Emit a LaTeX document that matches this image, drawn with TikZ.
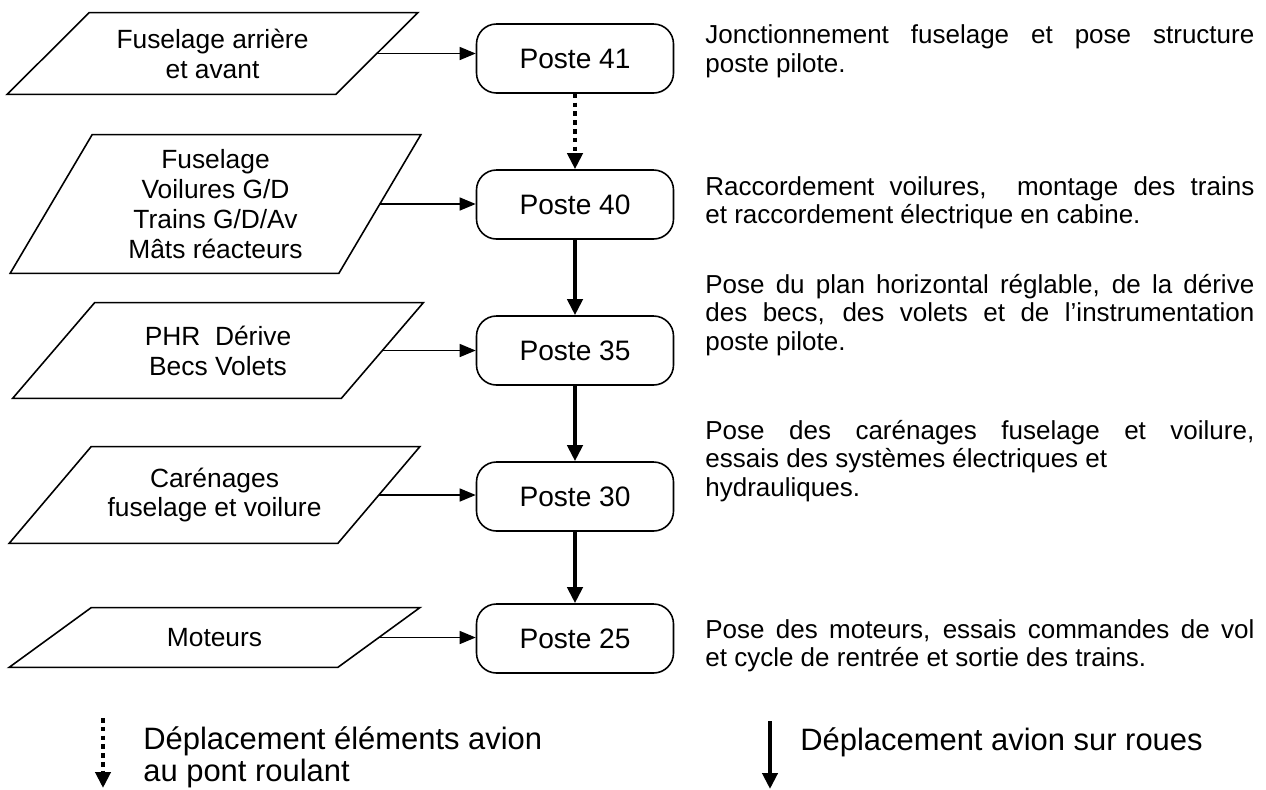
\documentclass[tikz,border=0pt]{standalone}
\usepackage{fontspec}
\setmainfont{Liberation Sans}
\usetikzlibrary{arrows.meta}
\newcommand\cadre[1]{\draw[line width=.9pt] ([xshift=-.82cm]#1.south west) -- ([xshift=.82cm]#1.north west) -- ([xshift=.82cm]#1.north east) -- ([xshift=-.82cm]#1.south east) -- cycle;}

\begin{document}
\begin{tikzpicture}[
	poste/.style={draw,line width=.9pt,rounded corners=.4cm,minimum width=3.94cm,minimum height=1.38cm,inner sep=0pt,font=\fontsize{16}{19}\selectfont},
	entree/.style={minimum width=6.56cm,minimum height=#1,inner sep=0pt,align=center,font=\fontsize{15}{17}\selectfont},
	descr/.style={anchor=west,text width=10.98cm,align=justify,inner sep=0pt,font=\fontsize{14.8}{16.2}\selectfont},
	legende/.style={anchor=west,align=left,inner sep=0pt,font=\fontsize{17.6}{18.4}\selectfont},
	flechefine/.style={-{Triangle[length=.32cm,width=.26cm]},line width=.75pt},
	flechegrasse/.style={-{Triangle[length=.32cm,width=.3cm]},line width=2.5pt},
	flechepont/.style={-{Triangle[length=.32cm,width=.3cm]},line width=2.6pt,dash pattern=on 2.6pt off 2.4pt}
	]
	\useasboundingbox (0,0) rectangle (25.32,-15.78);

	\node[entree=1.62cm] (fus) at (4.25,-1.07) {Fuselage arrière\\et avant};
	\node[entree=2.76cm] (voil) at (4.31,-4.08) {Fuselage\\Voilures G/D\\Trains G/D/Av\\Mâts réacteurs};
	\node[entree=1.9cm] (phr) at (4.36,-7.01) {PHR\ \ Dérive\\Becs Volets};
	\node[entree=1.92cm] (car) at (4.29,-9.9) {Carénages\\fuselage et voilure};
	\node[entree=1.18cm] (mot) at (4.29,-12.75) {Moteurs};
	\cadre{fus} \cadre{voil} \cadre{phr} \cadre{car} \cadre{mot}

	\node[poste] (p41) at (11.5,-1.17) {Poste 41};
	\node[poste] (p40) at (11.5,-4.09) {Poste 40};
	\node[poste] (p35) at (11.5,-7.01) {Poste 35};
	\node[poste] (p30) at (11.5,-9.93) {Poste 30};
	\node[poste] (p25) at (11.5,-12.77) {Poste 25};

	\draw[flechefine] (fus.east) -- (fus.east -| p41.west);
	\draw[flechefine] (voil.east) -- (voil.east -| p40.west);
	\draw[flechefine] (phr.east) -- (phr.east -| p35.west);
	\draw[flechefine] (car.east) -- (car.east -| p30.west);
	\draw[flechefine] (mot.east) -- (mot.east -| p25.west);

	\draw[flechepont] (p41.south) -- (p40.north);
	\draw[flechegrasse] (p40.south) -- (p35.north);
	\draw[flechegrasse] (p35.south) -- (p30.north);
	\draw[flechegrasse] (p30.south) -- (p25.north);

	\node[descr] (t41) at (14.1,-1.03) {Jonctionnement fuselage et pose structure\linebreak poste pilote.};
	\node[descr] (t40) at (14.1,-4.06) {Raccordement voilures,\ \ montage des trains\linebreak et raccordement électrique en cabine.};
	\node[descr] (t35) at (14.1,-6.3) {Pose du plan horizontal réglable, de la dérive\linebreak des becs, des volets et de l’instrumentation\linebreak poste pilote.};
	\node[descr] (t30) at (14.1,-9.22) {Pose des carénages fuselage et voilure,\linebreak essais des systèmes électriques et\\hydrauliques.};
	\node[descr] (t25) at (14.1,-12.92) {Pose des moteurs, essais commandes de vol\linebreak et cycle de rentrée et sortie des trains.};

	\coordinate (pont1) at (2.06,-14.36);
	\coordinate (pont2) at (2.06,-15.76);
	\draw[flechepont] (pont1) -- (pont2);
	\node[legende] (lpont) at (2.86,-15.14) {Déplacement éléments avion\\au pont roulant};

	\coordinate (roue1) at (15.4,-14.42);
	\coordinate (roue2) at (15.4,-15.78);
	\draw[flechegrasse] (roue1) -- (roue2);
	\node[legende] (lroue) at (16,-14.84) {Déplacement avion sur roues};
\end{tikzpicture}
\end{document}
